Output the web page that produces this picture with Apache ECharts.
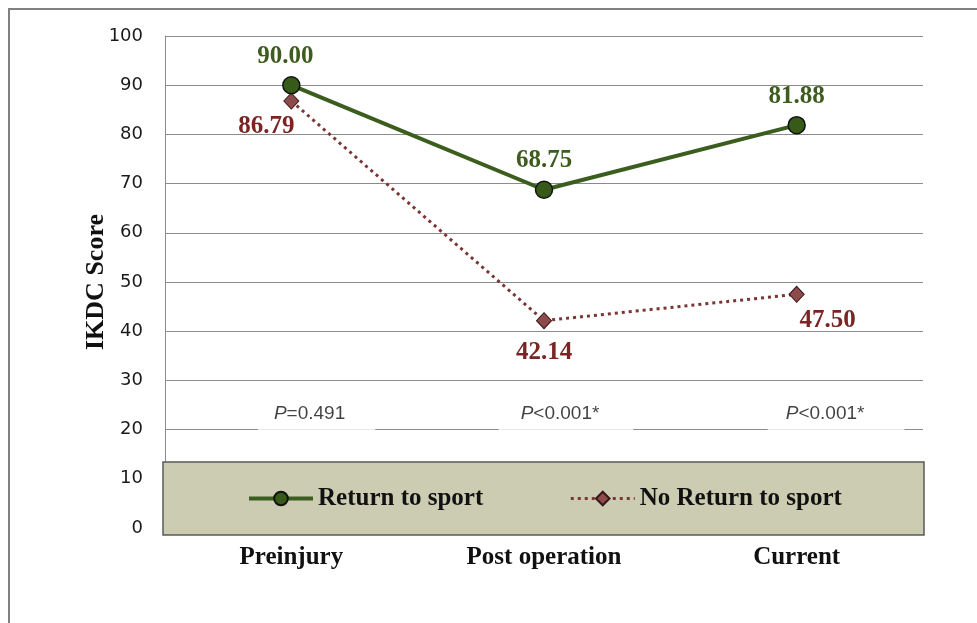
<!DOCTYPE html>
<html>
<head>
<meta charset="utf-8">
<script src="https://cdn.jsdelivr.net/npm/echarts@6/dist/echarts.min.js"></script>
<style>html,body{margin:0;padding:0;background:#fff;}#c{width:977px;height:623px;}</style>
</head>
<body>
<div id="c"></div>
<script>
var categories = ['Preinjury', 'Post operation', 'Current'];
var returnSport = [90.00, 68.75, 81.88];
var noReturnSport = [86.79, 42.14, 47.50];
var pLabels = ['0.491', '<0.001*', '<0.001*'];
var pSymbols = ['=', '', ''];
var pLabelX = [0.60, 1.587, 2.656];
var pLabelY = 20;
var yTicks = [0, 100, 10];

var serif = '"Liberation Serif", "DejaVu Serif", serif';
var sans = '"Liberation Sans", Arial, sans-serif';
var chart = echarts.init(document.getElementById('c'));

var pPads = [[2, 30, 10, 16], [2, 34, 10, 22], [2, 40, 10, 18]];
var pData = pLabelX.map(function (x, i) {
  return { value: [x, pLabelY], pText: pSymbols[i] + pLabels[i], label: { padding: pPads[i] } };
});

var dotted = [3, 4];

chart.setOption({
  animation: false,
  backgroundColor: '#fff',
  grid: { left: 165, right: 54, top: 36, bottom: 95, containLabel: false },
  graphic: [
    { type: 'rect', z: 0, silent: true, shape: { x: 9, y: 9, width: 1100, height: 1100 },
      style: { fill: 'none', stroke: '#808080', lineWidth: 2 } },
    { type: 'rect', z: 3, silent: true, shape: { x: 163, y: 462, width: 761, height: 73 },
      style: { fill: '#CCCCB3', stroke: '#595959', lineWidth: 1.5 } }
  ],
  legend: {
    z: 10,
    left: 247, top: 486, padding: 0,
    itemWidth: 64, itemHeight: 17, itemGap: 86,
    data: [
      { name: 'Return to sport', lineStyle: { width: 4 } },
      { name: 'No Return to sport', lineStyle: { width: 3, type: dotted } }
    ],
    textStyle: { fontFamily: serif, fontWeight: 'bold', fontSize: 25, color: '#111' }
  },
  xAxis: [{
    type: 'category', data: categories, boundaryGap: true,
    axisLine: { show: false }, axisTick: { show: false },
    axisLabel: { margin: 17, fontFamily: serif, fontWeight: 'bold', fontSize: 25, color: '#111' },
    splitLine: { show: false }
  }, {
    type: 'value', min: 0, max: 3, show: false
  }],
  yAxis: {
    type: 'value', min: yTicks[0], max: yTicks[1], interval: yTicks[2],
    name: 'IKDC Score', nameLocation: 'middle', nameGap: 56, nameMoveOverlap: false,
    nameTextStyle: { fontFamily: serif, fontWeight: 'bold', fontSize: 26, color: '#111' },
    axisLine: { show: true, lineStyle: { color: '#8c8c8c', width: 1 } },
    axisTick: { show: false },
    axisLabel: { margin: 22, fontFamily: '"DejaVu Sans", sans-serif', fontSize: 18, color: '#1a1a1a' },
    splitLine: { show: true, lineStyle: { color: '#8c8c8c', width: 1 } }
  },
  series: [{
    name: 'Return to sport', type: 'line', z: 5,
    data: returnSport.map(function (v, i) {
      return i === 0 ? { value: v, label: { offset: [-6, 0] } } : v;
    }),
    symbol: 'circle', symbolSize: 17,
    lineStyle: { color: '#3B5E1E', width: 4 },
    itemStyle: { color: '#375A19', borderColor: '#111', borderWidth: 1.5 },
    label: { show: true, position: 'top', distance: 7,
      formatter: function (p) { return p.value.toFixed(2); },
      fontFamily: serif, fontWeight: 'bold', fontSize: 25, color: '#3D5C1E' }
  }, {
    name: 'No Return to sport', type: 'line', z: 4,
    data: noReturnSport.map(function (v, i) {
      var lab = i === 0 ? { position: 'bottom', offset: [-25, -1] } :
                i === 1 ? { position: 'bottom', offset: [0, 5] } :
                          { position: 'bottom', offset: [31, -1] };
      return { value: v, label: lab };
    }),
    symbol: 'diamond', symbolSize: [15, 16],
    lineStyle: { color: '#7A3535', width: 3, type: dotted },
    itemStyle: { color: '#8E4B4B', borderColor: '#3a1515', borderWidth: 1 },
    label: { show: true, distance: 6,
      formatter: function (p) { return p.value.toFixed(2); },
      fontFamily: serif, fontWeight: 'bold', fontSize: 25, color: '#7B2424' }
  }, {
    name: 'p', type: 'scatter', xAxisIndex: 1, yAxisIndex: 0, silent: true,
    data: pData, symbolSize: 0, z: 6,
    label: { show: true, position: 'inside', offset: [0, -12],
      backgroundColor: '#fff',
      formatter: function (p) { return '{i|P}{t|' + p.data.pText + '}'; },
      rich: {
        i: { fontFamily: sans, fontStyle: 'italic', fontSize: 19, color: '#111', lineHeight: 22 },
        t: { fontFamily: sans, fontSize: 19, color: '#111', lineHeight: 22 }
      }
    }
  }]
});
</script>
</body>
</html>
